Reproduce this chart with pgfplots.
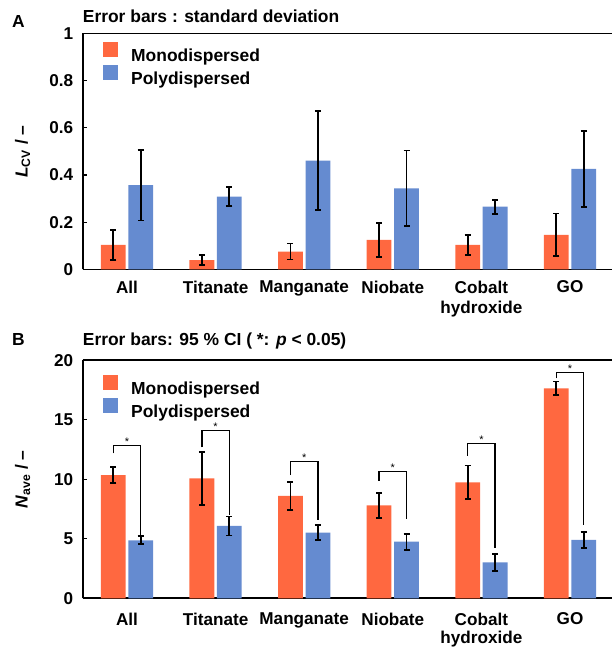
\documentclass[border=0pt]{standalone}
\usepackage{fontspec}
\setmainfont{Liberation Sans}
\usepackage{pgfplots}
\pgfplotsset{compat=1.18}
\definecolor{mono}{RGB}{255,104,64}
\definecolor{poly}{RGB}{101,139,208}
\newcommand{\tfont}{\bfseries\fontsize{17.2}{20}\selectfont}
\newcommand{\lfont}{\bfseries\fontsize{17.5}{20}\selectfont}
\tikzset{sigstar/.style={anchor=base, font=\fontsize{11}{12}\selectfont, inner sep=0pt}}
\pgfplotsset{
 panel/.style={
  scale only axis, width=531.6bp,
  xmin=-0.5, xmax=5.5, ymin=0,
  axis lines*=left,
  axis line style={line width=1.6bp, black},
  tick align=inside,
  major tick length=4bp,
  every tick/.style={black, line width=1.2bp},
  xtick={0,...,5},
  xticklabels={All,Titanate,Manganate,Niobate,Cobalt\\hydroxide,GO},
  xtick style={draw=none},
  xticklabel style={align=center, font=\tfont},
  yticklabel style={font=\tfont, xshift=-6bp},
  /pgf/number format/assume math mode=true,
  legend style={draw=none, fill=none, inner sep=0pt, anchor=north west,
     nodes={inner sep=2bp}, row sep=0.5bp, font=\lfont, legend cell align=left},
  legend image code/.code={\fill[##1] (0bp,-1.4bp) rectangle (15bp,13.6bp); \path (26bp,0bp);},
  title style={at={(rel axis cs:0,1)}, anchor=base west, inner sep=0pt, font=\lfont},
  every axis y label/.style={at={(axis description cs:-0.113,0.5)}, rotate=90, anchor=center, font=\lfont},
  clip=false,
 },
 mybar/.style={ybar, bar width=0.28, bar shift=0, draw=none, fill=#1,
  error bars/y dir=both, error bars/y explicit,
  error bars/error bar style={line width=1.8bp, black},
  error bars/error mark options={rotate=90, mark size=3bp, line width=1.8bp, black}},
 brk/.style={sharp plot, black, line width=1.5bp, forget plot, mark=none},
}
\begin{document}
\begin{tikzpicture}
\useasboundingbox (0,0) rectangle (612bp,648bp);
\node[anchor=base west, font=\lfont, inner sep=0pt] at (12bp,620bp) {A};
\node[anchor=base west, font=\lfont, inner sep=0pt] at (12bp,302bp) {B};
% ---------------- Panel A (bars at category -0.155 / +0.155)
\begin{axis}[panel, at={(82.7bp,378.5bp)}, anchor=south west, height=236bp,
  ymax=1, ytick={0,0.2,0.4,0.6,0.8,1},
  title={Error bars : standard deviation}, title style={yshift=5bp},
  ylabel={\textit{L}\textsubscript{CV} / –},
  xticklabel style={yshift=-8bp},
  legend style={at={(axis cs:-0.271,0.964)}}]
\addplot[mybar=mono] coordinates {
 (-0.155,0.104) +- (0,0.065)
 (0.845,0.040) +- (0,0.020)
 (1.845,0.076) +- (0,0.034)
 (2.845,0.125) +- (0,0.073)
 (3.845,0.104) +- (0,0.041)
 (4.845,0.147) +- (0,0.090)};
\addplot[mybar=poly] coordinates {
 (0.155,0.358) +- (0,0.150)
 (1.155,0.309) +- (0,0.040)
 (2.155,0.461) +- (0,0.210)
 (3.155,0.344) +- (0,0.160)
 (4.155,0.266) +- (0,0.030)
 (5.155,0.426) +- (0,0.161)};
\legend{Monodispersed, Polydispersed}
\draw[line width=1.6bp] (rel axis cs:0,1) -- (rel axis cs:1,1);
\end{axis}
% ---------------- Panel B
\begin{axis}[panel, at={(82.7bp,49.7bp)}, anchor=south west, height=238bp,
  ymax=20, ytick={0,5,10,15,20},
  title={Error bars: 95 \% CI ( *: \textit{p} < 0.05)}, title style={yshift=9bp},
  ylabel={\textit{N}\textsubscript{ave} / –},
  xticklabel style={yshift=-11bp, font=\bfseries\fontsize{17.2}{18.5}\selectfont},
  legend style={at={(axis cs:-0.271,18.76)}}]
\addplot[mybar=mono] coordinates {
 (-0.155,10.36) +- (0,0.65)
 (0.845,10.08) +- (0,2.24)
 (1.845,8.60) +- (0,1.16)
 (2.845,7.81) +- (0,1.03)
 (3.845,9.75) +- (0,1.41)
 (4.845,17.65) +- (0,0.56)};
\addplot[mybar=poly] coordinates {
 (0.155,4.87) +- (0,0.34)
 (1.155,6.08) +- (0,0.80)
 (2.155,5.51) +- (0,0.63)
 (3.155,4.76) +- (0,0.67)
 (4.155,3.02) +- (0,0.71)
 (5.155,4.90) +- (0,0.70)};
\legend{Monodispersed, Polydispersed}
\addplot[brk] coordinates {(-0.155,12.18) (-0.155,12.82) (0.155,12.82) (0.155,5.3)};
\addplot[brk] coordinates {(0.845,12.69) (0.845,14.1) (1.155,14.1) (1.155,7.0)};
\addplot[brk] coordinates {(1.845,10.35) (1.845,11.5) (2.155,11.5) (2.155,6.6)};
\addplot[brk] coordinates {(2.845,9.86) (2.845,10.65) (3.155,10.65) (3.155,6.64)};
\addplot[brk] coordinates {(3.845,11.96) (3.845,13.0) (4.155,13.0) (4.155,4.25)};
\addplot[brk] coordinates {(4.845,18.49) (4.845,18.96) (5.155,18.96) (5.155,6.16)};
\node[sigstar] at (axis cs:0,12.82) {*};
\node[sigstar] at (axis cs:1,14.1) {*};
\node[sigstar] at (axis cs:2,11.5) {*};
\node[sigstar] at (axis cs:3,10.65) {*};
\node[sigstar] at (axis cs:4,13.0) {*};
\node[sigstar] at (axis cs:5,18.96) {*};
\draw[line width=1.6bp] (rel axis cs:0,1) -- (rel axis cs:1,1);
\end{axis}
\end{tikzpicture}
\end{document}
